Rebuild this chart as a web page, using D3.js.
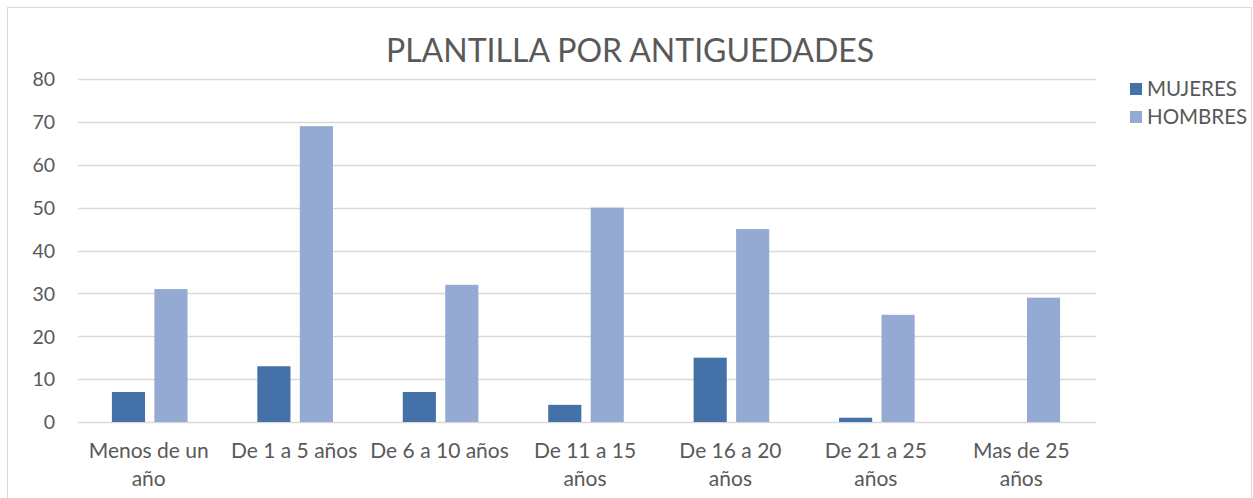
<!DOCTYPE html>
<html>
<head>
<meta charset="utf-8">
<script src="https://cdn.jsdelivr.net/npm/d3@7"></script>
<style>
  body { margin: 0; background: #fff; }
  svg, svg text { font-family: "Lato", "Open Sans", sans-serif; }
</style>
</head>
<body>
<div id="chart"></div>
<script>
const categories = ["Menos de un año", "De 1 a 5 años", "De 6 a 10 años", "De 11 a 15 años", "De 16 a 20 años", "De 21 a 25 años", "Mas de 25 años"];
const seriesNames = ["MUJERES", "HOMBRES"];
const mujeres = [7, 13, 7, 4, 15, 1, 0];
const hombres = [31, 69, 32, 50, 45, 25, 29];
const yTicks = [0, 10, 20, 30, 40, 50, 60, 70, 80];
const colors = ["#4472a8", "#95aad3"];

const width = 1253;
const height = 498;
const margin = {left: 78, right: 157, top: 79, bottom: 76};

const svg = d3.select("#chart").append("svg")
  .attr("width", width)
  .attr("height", height);

// chart frame
svg.append("rect")
  .attr("x", 7.5).attr("y", 7.5)
  .attr("width", 1244).attr("height", 500)
  .attr("fill", "none")
  .attr("stroke", "#d9d9d9");

const y = d3.scaleLinear()
  .domain([0, 80])
  .range([height - margin.bottom, margin.top]);

const x = d3.scaleBand()
  .domain(categories)
  .range([margin.left, width - margin.right])
  .paddingInner(0.48)
  .paddingOuter(0.24);

const xs = d3.scaleBand()
  .domain(seriesNames)
  .range([0, x.bandwidth()])
  .paddingInner(0.22);

// gridlines
svg.append("g")
  .selectAll("line")
  .data(yTicks)
  .enter()
  .append("line")
  .attr("x1", margin.left)
  .attr("x2", width - margin.right)
  .attr("y1", d => Math.round(y(d)) + 0.5)
  .attr("y2", d => Math.round(y(d)) + 0.5)
  .attr("stroke", "#d9d9d9")
  .attr("stroke-width", 1.3);

// y labels
const yAxis = svg.append("g")
  .attr("transform", "translate(" + (margin.left - 23) + ",0)")
  .call(d3.axisLeft(y).tickValues(yTicks).tickSize(0).tickPadding(0));
yAxis.select(".domain").remove();
yAxis.attr("font-family", null);
yAxis.selectAll("text")
  .attr("fill", "#595959")
  .style("font-size", "19.5px")
  .attr("dy", "0.35em");

// bars
const data = [mujeres, hombres];
data.forEach((vals, s) => {
  svg.append("g")
    .selectAll("rect")
    .data(vals)
    .enter()
    .append("rect")
    .attr("x", (d, i) => x(categories[i]) + xs(seriesNames[s]) - 1)
    .attr("y", d => y(d))
    .attr("width", xs.bandwidth())
    .attr("height", d => y(0) - y(d))
    .attr("fill", colors[s]);
});

// x labels
const xAxis = svg.append("g")
  .attr("transform", "translate(-2," + (y(0) + 21) + ")")
  .call(d3.axisBottom(x).tickSize(0).tickPadding(0));
xAxis.select(".domain").remove();
xAxis.attr("font-family", null);
xAxis.selectAll("text")
  .attr("fill", "#595959")
  .style("font-size", "21px")
  .call(wrap, 142);

function wrap(texts, w) {
  texts.each(function() {
    const text = d3.select(this);
    const words = text.text().split(" ");
    text.text(null);
    let line = [];
    let tspan = text.append("tspan").attr("x", 0).attr("dy", "0.71em");
    words.forEach(word => {
      line.push(word);
      tspan.text(line.join(" "));
      if (tspan.node().getComputedTextLength() > w && line.length > 1) {
        line.pop();
        tspan.text(line.join(" "));
        line = [word];
        tspan = text.append("tspan").attr("x", 0).attr("dy", "1.32em").text(word);
      }
    });
  });
}

// title
svg.append("text")
  .attr("x", 630)
  .attr("y", 62)
  .attr("text-anchor", "middle")
  .attr("fill", "#595959")
  .style("font-size", "32px")
  .text("PLANTILLA POR ANTIGUEDADES");

// legend
const legend = svg.append("g")
  .selectAll("g")
  .data(seriesNames)
  .enter()
  .append("g")
  .attr("transform", (d, i) => "translate(1130," + (83 + i * 28) + ")");
legend.append("rect")
  .attr("width", 12).attr("height", 12)
  .attr("fill", (d, i) => colors[i]);
legend.append("text")
  .attr("x", 17).attr("y", 6)
  .attr("dy", "0.35em")
  .attr("fill", "#595959")
  .style("font-size", "20.5px")
  .text(d => d);
</script>
</body>
</html>
